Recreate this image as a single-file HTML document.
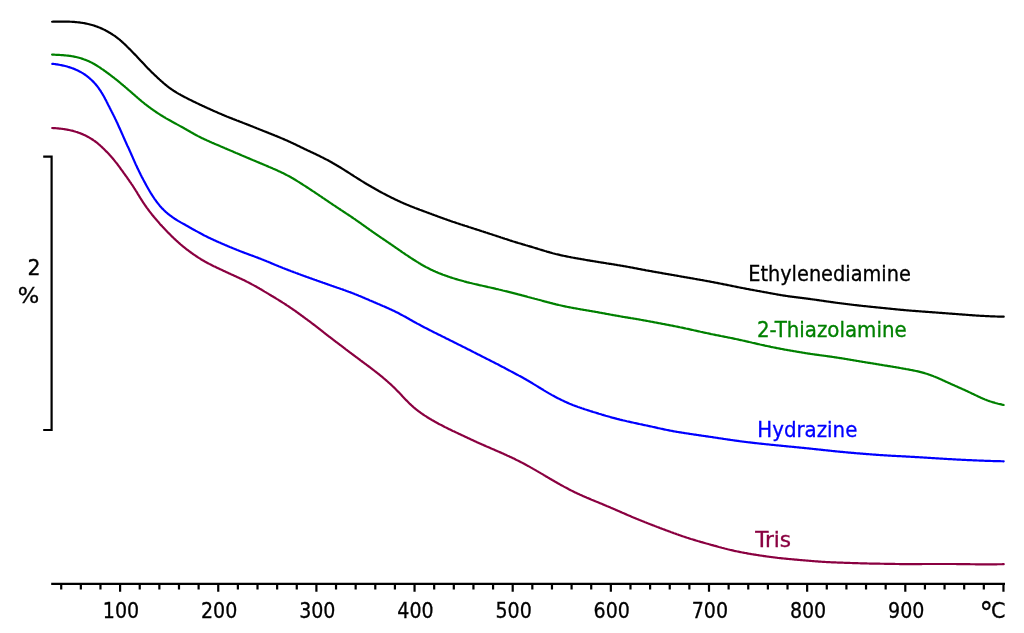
<!DOCTYPE html>
<html><head><meta charset="utf-8"><title>TGA curves</title><style>
html,body{margin:0;padding:0;background:#fff;width:1024px;height:633px;overflow:hidden}
svg{display:block}
text{font-family:'DejaVu Sans Condensed','Liberation Sans',sans-serif;font-size:22px;stroke-width:0.3}
</style></head><body>
<svg width="1024" height="633" viewBox="0 0 1024 633">
<g fill="none" stroke-width="2.2" stroke-linejoin="round" stroke-linecap="round">
<polyline points="52.1,21.73 53.1,21.71 54.1,21.69 55.1,21.66 56.2,21.64 57.2,21.63 58.2,21.61 59.2,21.60 60.2,21.59 61.2,21.58 62.2,21.57 63.2,21.57 64.2,21.58 65.3,21.59 66.3,21.60 67.3,21.62 68.3,21.65 69.3,21.68 70.3,21.73 71.3,21.77 72.3,21.83 73.3,21.89 74.3,21.97 75.3,22.05 76.3,22.14 77.3,22.24 78.3,22.34 79.3,22.46 80.3,22.59 81.3,22.72 82.2,22.87 83.2,23.03 84.2,23.19 85.2,23.37 86.2,23.56 87.1,23.76 88.1,23.98 89.1,24.21 90.0,24.45 91.0,24.70 92.0,24.97 92.9,25.25 93.9,25.54 94.8,25.85 95.7,26.17 96.7,26.51 97.6,26.86 98.5,27.22 99.5,27.59 100.4,27.97 101.3,28.37 102.2,28.78 103.1,29.20 104.0,29.63 104.9,30.07 105.7,30.53 106.6,30.99 107.5,31.46 108.4,31.95 109.2,32.45 110.1,32.95 110.9,33.47 111.8,34.00 112.6,34.54 113.4,35.09 114.3,35.65 115.1,36.23 115.9,36.81 116.7,37.40 117.5,38.01 118.3,38.63 119.1,39.26 119.9,39.90 120.6,40.55 121.4,41.21 122.1,41.88 122.9,42.55 123.6,43.24 124.4,43.93 125.1,44.63 125.8,45.33 126.5,46.03 127.2,46.74 128.0,47.45 128.7,48.16 129.4,48.88 130.1,49.59 130.8,50.30 131.5,51.02 132.2,51.73 132.9,52.45 133.6,53.17 134.3,53.89 135.0,54.61 135.7,55.33 136.4,56.05 137.1,56.78 137.7,57.50 138.4,58.23 139.1,58.96 139.8,59.69 140.5,60.42 141.2,61.15 141.8,61.88 142.5,62.61 143.2,63.34 143.9,64.07 144.6,64.80 145.2,65.52 145.9,66.24 146.6,66.96 147.3,67.68 148.0,68.40 148.7,69.11 149.4,69.81 150.1,70.52 150.8,71.22 151.5,71.92 152.2,72.62 153.0,73.32 153.7,74.01 154.4,74.70 155.1,75.39 155.9,76.08 156.6,76.77 157.3,77.45 158.0,78.14 158.8,78.82 159.5,79.50 160.3,80.17 161.0,80.85 161.8,81.52 162.5,82.18 163.3,82.85 164.0,83.50 164.8,84.15 165.6,84.79 166.4,85.43 167.1,86.05 167.9,86.67 168.7,87.27 169.5,87.87 170.3,88.46 171.2,89.04 172.0,89.61 172.8,90.17 173.6,90.72 174.5,91.26 175.3,91.79 176.2,92.32 177.0,92.84 177.9,93.35 178.7,93.85 179.6,94.34 180.5,94.83 181.3,95.31 182.2,95.79 183.1,96.26 184.0,96.72 184.9,97.18 185.8,97.64 186.7,98.09 187.5,98.54 188.4,98.99 189.3,99.44 190.2,99.88 191.1,100.33 192.0,100.77 192.9,101.20 193.8,101.64 194.7,102.07 195.6,102.51 196.5,102.94 197.4,103.37 198.3,103.79 199.2,104.22 200.1,104.64 201.0,105.06 201.9,105.48 202.8,105.90 203.7,106.32 204.6,106.74 205.5,107.16 206.4,107.57 207.3,107.99 208.3,108.41 209.2,108.82 210.1,109.24 211.0,109.65 211.9,110.07 212.8,110.48 213.7,110.89 214.6,111.30 215.6,111.71 216.5,112.12 217.4,112.52 218.3,112.92 219.2,113.32 220.2,113.72 221.1,114.11 222.0,114.50 222.9,114.89 223.9,115.27 224.8,115.66 225.7,116.04 226.6,116.41 227.6,116.79 228.5,117.16 229.4,117.53 230.3,117.90 231.3,118.26 232.2,118.62 233.1,118.99 234.1,119.35 235.0,119.70 235.9,120.06 236.8,120.42 237.8,120.78 238.7,121.13 239.6,121.49 240.6,121.85 241.5,122.21 242.4,122.57 243.3,122.93 244.3,123.29 245.2,123.65 246.1,124.02 247.0,124.38 248.0,124.75 248.9,125.11 249.8,125.48 250.7,125.85 251.7,126.21 252.6,126.58 253.5,126.95 254.5,127.32 255.4,127.69 256.3,128.06 257.2,128.43 258.2,128.80 259.1,129.17 260.0,129.54 261.0,129.91 261.9,130.28 262.8,130.65 263.7,131.02 264.7,131.40 265.6,131.77 266.5,132.14 267.5,132.51 268.4,132.88 269.3,133.25 270.3,133.63 271.2,134.00 272.1,134.37 273.1,134.75 274.0,135.12 274.9,135.50 275.9,135.87 276.8,136.25 277.7,136.63 278.7,137.02 279.6,137.40 280.5,137.79 281.4,138.18 282.4,138.57 283.3,138.97 284.2,139.37 285.1,139.77 286.1,140.17 287.0,140.58 287.9,140.99 288.8,141.40 289.7,141.82 290.6,142.23 291.5,142.65 292.4,143.08 293.3,143.50 294.2,143.93 295.1,144.36 296.0,144.79 296.9,145.23 297.8,145.67 298.7,146.10 299.6,146.54 300.5,146.98 301.4,147.42 302.3,147.86 303.2,148.29 304.1,148.73 305.0,149.16 305.9,149.59 306.8,150.02 307.7,150.44 308.6,150.87 309.6,151.29 310.5,151.72 311.4,152.14 312.3,152.57 313.2,153.00 314.1,153.42 315.0,153.85 315.9,154.29 316.8,154.72 317.7,155.15 318.6,155.59 319.5,156.03 320.4,156.47 321.3,156.91 322.2,157.36 323.1,157.81 323.9,158.26 324.8,158.71 325.7,159.17 326.6,159.62 327.5,160.09 328.4,160.56 329.2,161.03 330.1,161.50 331.0,161.98 331.9,162.47 332.7,162.96 333.6,163.45 334.4,163.95 335.3,164.45 336.2,164.96 337.0,165.46 337.9,165.98 338.7,166.49 339.6,167.01 340.4,167.53 341.3,168.05 342.1,168.57 343.0,169.10 343.8,169.63 344.6,170.16 345.5,170.69 346.3,171.22 347.2,171.76 348.0,172.29 348.9,172.83 349.7,173.36 350.5,173.90 351.4,174.44 352.2,174.97 353.1,175.51 353.9,176.05 354.7,176.59 355.6,177.13 356.4,177.67 357.3,178.20 358.1,178.74 359.0,179.27 359.8,179.81 360.7,180.34 361.5,180.87 362.4,181.39 363.2,181.92 364.1,182.44 364.9,182.96 365.8,183.48 366.6,183.99 367.5,184.51 368.4,185.02 369.2,185.53 370.1,186.03 371.0,186.54 371.8,187.04 372.7,187.54 373.6,188.04 374.5,188.53 375.3,189.02 376.2,189.52 377.1,190.01 378.0,190.49 378.8,190.98 379.7,191.46 380.6,191.94 381.5,192.42 382.4,192.89 383.2,193.36 384.1,193.83 385.0,194.30 385.9,194.76 386.8,195.22 387.7,195.68 388.6,196.13 389.4,196.58 390.3,197.03 391.2,197.48 392.1,197.92 393.0,198.36 393.9,198.79 394.8,199.23 395.7,199.66 396.6,200.09 397.5,200.51 398.4,200.93 399.3,201.35 400.2,201.76 401.1,202.17 402.0,202.58 403.0,202.99 403.9,203.39 404.8,203.78 405.7,204.18 406.6,204.57 407.6,204.96 408.5,205.34 409.4,205.72 410.3,206.10 411.3,206.47 412.2,206.84 413.2,207.21 414.1,207.57 415.0,207.93 416.0,208.29 416.9,208.65 417.9,209.00 418.8,209.36 419.7,209.71 420.7,210.06 421.6,210.41 422.6,210.76 423.5,211.11 424.5,211.46 425.4,211.81 426.4,212.16 427.3,212.51 428.3,212.85 429.2,213.20 430.1,213.55 431.1,213.90 432.0,214.25 433.0,214.60 433.9,214.95 434.8,215.30 435.8,215.65 436.7,216.00 437.6,216.34 438.6,216.69 439.5,217.03 440.4,217.38 441.4,217.72 442.3,218.06 443.2,218.40 444.2,218.74 445.1,219.07 446.1,219.40 447.0,219.73 447.9,220.06 448.9,220.39 449.8,220.71 450.7,221.04 451.7,221.36 452.6,221.68 453.6,222.00 454.5,222.31 455.5,222.63 456.4,222.94 457.3,223.25 458.3,223.56 459.2,223.87 460.2,224.18 461.1,224.49 462.1,224.80 463.0,225.11 464.0,225.41 464.9,225.72 465.9,226.03 466.8,226.33 467.8,226.64 468.7,226.95 469.7,227.25 470.6,227.56 471.6,227.86 472.5,228.17 473.5,228.47 474.4,228.78 475.4,229.09 476.3,229.39 477.3,229.70 478.2,230.00 479.2,230.31 480.1,230.62 481.1,230.92 482.0,231.23 483.0,231.54 483.9,231.85 484.9,232.15 485.8,232.46 486.8,232.77 487.7,233.08 488.7,233.39 489.6,233.70 490.6,234.01 491.5,234.32 492.5,234.63 493.4,234.94 494.4,235.25 495.3,235.57 496.3,235.88 497.2,236.19 498.2,236.51 499.1,236.82 500.1,237.13 501.0,237.45 502.0,237.76 502.9,238.08 503.9,238.39 504.8,238.71 505.8,239.02 506.7,239.33 507.7,239.65 508.7,239.96 509.6,240.27 510.6,240.58 511.5,240.88 512.5,241.19 513.4,241.49 514.4,241.78 515.4,242.08 516.3,242.37 517.3,242.66 518.2,242.95 519.2,243.23 520.2,243.52 521.1,243.80 522.1,244.09 523.0,244.37 524.0,244.65 525.0,244.94 525.9,245.22 526.9,245.50 527.8,245.79 528.8,246.07 529.7,246.35 530.7,246.64 531.7,246.93 532.6,247.21 533.6,247.50 534.5,247.79 535.5,248.08 536.4,248.37 537.4,248.67 538.3,248.96 539.3,249.25 540.2,249.55 541.2,249.84 542.2,250.14 543.1,250.43 544.1,250.72 545.0,251.01 546.0,251.29 546.9,251.58 547.9,251.85 548.9,252.13 549.8,252.40 550.8,252.67 551.8,252.94 552.7,253.20 553.7,253.46 554.7,253.71 555.6,253.96 556.6,254.20 557.6,254.44 558.6,254.68 559.6,254.91 560.5,255.13 561.5,255.35 562.5,255.57 563.5,255.78 564.5,255.99 565.4,256.19 566.4,256.39 567.4,256.59 568.4,256.78 569.4,256.97 570.4,257.16 571.3,257.35 572.3,257.53 573.3,257.71 574.3,257.89 575.3,258.06 576.2,258.24 577.2,258.42 578.2,258.59 579.2,258.76 580.2,258.94 581.1,259.11 582.1,259.28 583.1,259.45 584.1,259.62 585.1,259.79 586.0,259.96 587.0,260.13 588.0,260.30 589.0,260.46 590.0,260.63 590.9,260.80 591.9,260.96 592.9,261.12 593.9,261.29 594.9,261.45 595.9,261.61 596.8,261.77 597.8,261.93 598.8,262.09 599.8,262.24 600.8,262.40 601.8,262.56 602.8,262.71 603.8,262.87 604.8,263.02 605.8,263.17 606.7,263.33 607.7,263.48 608.7,263.64 609.7,263.79 610.7,263.95 611.7,264.10 612.7,264.26 613.7,264.42 614.7,264.58 615.7,264.74 616.7,264.90 617.6,265.07 618.6,265.23 619.6,265.40 620.6,265.56 621.6,265.73 622.6,265.90 623.6,266.07 624.5,266.25 625.5,266.42 626.5,266.60 627.5,266.78 628.5,266.96 629.5,267.14 630.4,267.32 631.4,267.50 632.4,267.69 633.4,267.87 634.3,268.06 635.3,268.25 636.3,268.44 637.3,268.63 638.3,268.81 639.2,269.00 640.2,269.19 641.2,269.37 642.2,269.56 643.2,269.75 644.2,269.93 645.2,270.11 646.1,270.30 647.1,270.48 648.1,270.66 649.1,270.84 650.1,271.02 651.1,271.20 652.1,271.37 653.1,271.55 654.0,271.73 655.0,271.91 656.0,272.08 657.0,272.26 658.0,272.43 659.0,272.61 660.0,272.78 661.0,272.95 662.0,273.13 662.9,273.30 663.9,273.47 664.9,273.65 665.9,273.82 666.9,273.99 667.9,274.16 668.9,274.33 669.8,274.51 670.8,274.68 671.8,274.85 672.8,275.02 673.8,275.19 674.7,275.36 675.7,275.53 676.7,275.70 677.7,275.87 678.7,276.04 679.6,276.21 680.6,276.38 681.6,276.55 682.6,276.72 683.6,276.89 684.5,277.06 685.5,277.24 686.5,277.41 687.5,277.58 688.5,277.75 689.4,277.92 690.4,278.09 691.4,278.27 692.4,278.44 693.4,278.61 694.4,278.79 695.3,278.96 696.3,279.13 697.3,279.31 698.3,279.48 699.3,279.66 700.3,279.83 701.3,280.01 702.3,280.19 703.3,280.36 704.2,280.54 705.2,280.72 706.2,280.90 707.2,281.08 708.2,281.26 709.2,281.44 710.2,281.63 711.2,281.81 712.1,282.00 713.1,282.18 714.1,282.37 715.1,282.56 716.1,282.75 717.1,282.94 718.0,283.13 719.0,283.32 720.0,283.51 721.0,283.71 722.0,283.90 722.9,284.10 723.9,284.30 724.9,284.49 725.9,284.69 726.8,284.89 727.8,285.09 728.8,285.29 729.8,285.49 730.7,285.69 731.7,285.89 732.7,286.08 733.7,286.28 734.7,286.48 735.6,286.68 736.6,286.88 737.6,287.07 738.6,287.27 739.6,287.46 740.5,287.66 741.5,287.85 742.5,288.04 743.5,288.23 744.5,288.42 745.5,288.61 746.5,288.80 747.4,288.99 748.4,289.18 749.4,289.36 750.4,289.55 751.4,289.73 752.4,289.91 753.4,290.10 754.4,290.28 755.4,290.46 756.3,290.64 757.3,290.82 758.3,291.00 759.3,291.18 760.3,291.36 761.3,291.54 762.2,291.71 763.2,291.89 764.2,292.07 765.2,292.25 766.2,292.43 767.2,292.61 768.1,292.79 769.1,292.97 770.1,293.15 771.1,293.33 772.1,293.51 773.0,293.69 774.0,293.86 775.0,294.04 776.0,294.22 776.9,294.39 777.9,294.56 778.9,294.73 779.9,294.90 780.9,295.07 781.8,295.23 782.8,295.39 783.8,295.55 784.8,295.71 785.8,295.86 786.8,296.01 787.8,296.15 788.7,296.30 789.7,296.44 790.7,296.57 791.7,296.70 792.7,296.83 793.7,296.96 794.7,297.09 795.7,297.21 796.7,297.33 797.7,297.46 798.7,297.58 799.7,297.70 800.7,297.82 801.7,297.94 802.7,298.07 803.7,298.19 804.7,298.32 805.7,298.44 806.7,298.57 807.6,298.70 808.6,298.83 809.6,298.96 810.6,299.09 811.6,299.23 812.6,299.36 813.6,299.50 814.6,299.64 815.6,299.77 816.6,299.91 817.6,300.06 818.5,300.20 819.5,300.34 820.5,300.48 821.5,300.62 822.5,300.77 823.5,300.91 824.5,301.05 825.4,301.20 826.4,301.34 827.4,301.48 828.4,301.62 829.4,301.76 830.4,301.90 831.4,302.04 832.4,302.18 833.4,302.31 834.3,302.45 835.3,302.58 836.3,302.72 837.3,302.85 838.3,302.98 839.3,303.11 840.3,303.24 841.3,303.37 842.3,303.50 843.3,303.63 844.3,303.76 845.3,303.88 846.3,304.01 847.3,304.13 848.3,304.26 849.3,304.38 850.3,304.50 851.3,304.62 852.3,304.74 853.3,304.85 854.3,304.97 855.3,305.09 856.3,305.20 857.3,305.31 858.3,305.43 859.2,305.54 860.2,305.65 861.2,305.76 862.2,305.86 863.2,305.97 864.2,306.07 865.2,306.18 866.2,306.28 867.2,306.38 868.2,306.49 869.1,306.59 870.1,306.69 871.1,306.79 872.1,306.89 873.1,306.99 874.1,307.09 875.1,307.19 876.1,307.29 877.0,307.39 878.0,307.49 879.0,307.59 880.0,307.69 881.0,307.79 882.0,307.89 883.0,307.99 884.0,308.09 885.0,308.20 886.0,308.30 887.0,308.40 888.0,308.50 889.0,308.60 890.0,308.71 891.0,308.81 891.9,308.91 892.9,309.01 893.9,309.11 894.9,309.21 895.9,309.31 896.9,309.41 897.9,309.51 898.9,309.60 899.9,309.70 900.9,309.79 902.0,309.88 903.0,309.97 904.0,310.06 905.0,310.15 906.0,310.24 907.0,310.32 908.0,310.41 909.0,310.49 910.0,310.57 911.0,310.65 912.0,310.73 913.0,310.81 914.0,310.89 915.0,310.97 916.0,311.04 917.0,311.12 917.9,311.19 918.9,311.27 919.9,311.34 920.9,311.42 921.9,311.49 922.9,311.56 923.9,311.64 924.9,311.71 925.9,311.78 926.9,311.86 927.9,311.93 928.9,312.00 929.9,312.07 930.9,312.15 931.8,312.22 932.8,312.29 933.8,312.37 934.8,312.44 935.8,312.51 936.8,312.59 937.8,312.66 938.8,312.73 939.8,312.81 940.8,312.88 941.8,312.96 942.8,313.03 943.8,313.10 944.8,313.18 945.8,313.25 946.8,313.33 947.8,313.40 948.8,313.48 949.8,313.55 950.8,313.63 951.8,313.70 952.8,313.78 953.8,313.85 954.8,313.93 955.9,314.01 956.9,314.08 957.9,314.16 958.9,314.24 959.9,314.31 960.8,314.39 961.8,314.47 962.8,314.54 963.8,314.62 964.8,314.69 965.8,314.77 966.8,314.84 967.8,314.92 968.8,314.99 969.8,315.07 970.8,315.14 971.8,315.21 972.8,315.28 973.8,315.35 974.8,315.42 975.8,315.48 976.7,315.55 977.7,315.61 978.7,315.68 979.7,315.74 980.7,315.80 981.7,315.85 982.7,315.91 983.7,315.97 984.7,316.02 985.7,316.07 986.7,316.12 987.7,316.17 988.7,316.21 989.7,316.26 990.7,316.30 991.7,316.34 992.7,316.38 993.7,316.41 994.7,316.44 995.7,316.48 996.7,316.50 997.7,316.53 998.7,316.55 999.7,316.57 1000.7,316.59 1001.7,316.61 1002.7,316.62 1003.7,316.63" stroke="#000000"/>
<polyline points="52.1,54.55 53.1,54.62 54.1,54.69 55.1,54.74 56.1,54.80 57.1,54.85 58.2,54.90 59.2,54.96 60.2,55.01 61.2,55.07 62.2,55.14 63.2,55.21 64.2,55.29 65.2,55.37 66.2,55.47 67.2,55.57 68.2,55.69 69.2,55.81 70.2,55.95 71.2,56.10 72.2,56.26 73.1,56.43 74.1,56.62 75.1,56.82 76.1,57.03 77.0,57.26 78.0,57.50 79.0,57.76 79.9,58.02 80.9,58.31 81.8,58.61 82.8,58.92 83.7,59.25 84.7,59.59 85.6,59.94 86.5,60.32 87.4,60.70 88.4,61.10 89.3,61.51 90.2,61.94 91.1,62.38 92.0,62.84 92.8,63.30 93.7,63.78 94.6,64.27 95.4,64.78 96.3,65.29 97.1,65.81 98.0,66.34 98.8,66.88 99.7,67.43 100.5,67.98 101.3,68.54 102.1,69.11 103.0,69.68 103.8,70.25 104.6,70.83 105.4,71.41 106.2,71.99 107.0,72.58 107.8,73.17 108.6,73.76 109.4,74.35 110.2,74.95 111.0,75.55 111.8,76.16 112.6,76.77 113.4,77.38 114.2,77.99 114.9,78.61 115.7,79.22 116.5,79.85 117.3,80.47 118.1,81.10 118.8,81.73 119.6,82.36 120.4,83.00 121.1,83.63 121.9,84.27 122.7,84.91 123.4,85.56 124.2,86.20 125.0,86.85 125.7,87.50 126.5,88.15 127.2,88.80 128.0,89.45 128.7,90.10 129.5,90.75 130.3,91.41 131.0,92.07 131.8,92.72 132.5,93.38 133.3,94.04 134.0,94.70 134.8,95.36 135.5,96.02 136.3,96.68 137.1,97.34 137.8,98.00 138.6,98.65 139.3,99.31 140.1,99.96 140.9,100.60 141.6,101.24 142.4,101.88 143.2,102.51 144.0,103.14 144.7,103.76 145.5,104.37 146.3,104.99 147.1,105.59 147.9,106.20 148.7,106.79 149.5,107.39 150.3,107.97 151.1,108.56 151.9,109.14 152.7,109.72 153.5,110.29 154.4,110.85 155.2,111.42 156.0,111.98 156.8,112.53 157.7,113.08 158.5,113.63 159.3,114.17 160.2,114.70 161.0,115.24 161.9,115.77 162.7,116.29 163.6,116.81 164.4,117.32 165.3,117.83 166.1,118.34 167.0,118.84 167.9,119.33 168.7,119.82 169.6,120.31 170.5,120.80 171.4,121.28 172.2,121.76 173.1,122.24 174.0,122.72 174.9,123.19 175.8,123.67 176.6,124.15 177.5,124.64 178.4,125.12 179.3,125.61 180.2,126.10 181.0,126.59 181.9,127.08 182.8,127.57 183.7,128.06 184.5,128.55 185.4,129.05 186.3,129.54 187.1,130.04 188.0,130.53 188.9,131.03 189.8,131.52 190.6,132.02 191.5,132.51 192.4,133.00 193.3,133.49 194.1,133.98 195.0,134.47 195.9,134.95 196.8,135.42 197.6,135.89 198.5,136.36 199.4,136.81 200.3,137.27 201.2,137.72 202.1,138.16 203.0,138.59 203.9,139.02 204.8,139.45 205.7,139.87 206.6,140.29 207.6,140.70 208.5,141.11 209.4,141.51 210.3,141.91 211.2,142.31 212.1,142.71 213.1,143.11 214.0,143.50 214.9,143.89 215.8,144.29 216.8,144.68 217.7,145.08 218.6,145.47 219.5,145.86 220.4,146.26 221.4,146.65 222.3,147.05 223.2,147.44 224.1,147.83 225.0,148.23 226.0,148.62 226.9,149.01 227.8,149.41 228.7,149.80 229.6,150.19 230.5,150.58 231.5,150.97 232.4,151.36 233.3,151.76 234.2,152.15 235.1,152.54 236.0,152.93 237.0,153.32 237.9,153.71 238.8,154.10 239.7,154.49 240.6,154.88 241.5,155.27 242.5,155.66 243.4,156.04 244.3,156.43 245.2,156.82 246.1,157.21 247.0,157.60 248.0,157.98 248.9,158.37 249.8,158.76 250.7,159.14 251.6,159.53 252.5,159.92 253.5,160.30 254.4,160.69 255.3,161.07 256.2,161.46 257.1,161.85 258.1,162.23 259.0,162.62 259.9,163.01 260.8,163.39 261.8,163.78 262.7,164.17 263.6,164.56 264.5,164.95 265.4,165.34 266.4,165.73 267.3,166.12 268.2,166.52 269.1,166.91 270.1,167.30 271.0,167.70 271.9,168.10 272.8,168.50 273.8,168.90 274.7,169.30 275.6,169.71 276.5,170.12 277.4,170.53 278.3,170.95 279.3,171.37 280.2,171.80 281.1,172.23 282.0,172.66 282.9,173.10 283.8,173.55 284.7,174.00 285.6,174.45 286.5,174.91 287.3,175.38 288.2,175.85 289.1,176.32 290.0,176.81 290.9,177.29 291.7,177.78 292.6,178.28 293.5,178.78 294.3,179.28 295.2,179.79 296.0,180.31 296.9,180.83 297.7,181.35 298.6,181.88 299.4,182.41 300.3,182.94 301.1,183.48 302.0,184.01 302.8,184.55 303.6,185.09 304.5,185.64 305.3,186.18 306.2,186.72 307.0,187.27 307.8,187.81 308.7,188.36 309.5,188.91 310.3,189.46 311.2,190.01 312.0,190.56 312.8,191.11 313.7,191.66 314.5,192.21 315.3,192.77 316.2,193.33 317.0,193.88 317.8,194.44 318.7,195.00 319.5,195.56 320.3,196.12 321.2,196.69 322.0,197.25 322.8,197.81 323.7,198.38 324.5,198.94 325.3,199.50 326.2,200.06 327.0,200.63 327.8,201.19 328.6,201.75 329.5,202.31 330.3,202.87 331.1,203.43 332.0,203.99 332.8,204.55 333.6,205.11 334.5,205.66 335.3,206.22 336.1,206.77 337.0,207.32 337.8,207.88 338.6,208.43 339.5,208.98 340.3,209.53 341.1,210.08 342.0,210.63 342.8,211.17 343.6,211.72 344.5,212.27 345.3,212.82 346.1,213.36 346.9,213.91 347.8,214.46 348.6,215.01 349.4,215.56 350.3,216.11 351.1,216.67 351.9,217.23 352.7,217.78 353.5,218.34 354.4,218.91 355.2,219.47 356.0,220.04 356.8,220.60 357.6,221.17 358.5,221.74 359.3,222.32 360.1,222.89 360.9,223.46 361.7,224.04 362.5,224.62 363.3,225.20 364.1,225.78 365.0,226.36 365.8,226.94 366.6,227.52 367.4,228.10 368.2,228.68 369.0,229.26 369.8,229.84 370.7,230.42 371.5,231.00 372.3,231.57 373.1,232.15 373.9,232.73 374.8,233.30 375.6,233.87 376.4,234.45 377.3,235.02 378.1,235.58 378.9,236.15 379.7,236.72 380.6,237.29 381.4,237.85 382.3,238.42 383.1,238.98 383.9,239.55 384.8,240.12 385.6,240.68 386.4,241.25 387.3,241.81 388.1,242.38 388.9,242.95 389.8,243.51 390.6,244.08 391.4,244.65 392.2,245.22 393.1,245.78 393.9,246.35 394.7,246.92 395.5,247.49 396.4,248.06 397.2,248.63 398.0,249.21 398.8,249.78 399.7,250.35 400.5,250.92 401.3,251.49 402.1,252.05 402.9,252.62 403.8,253.18 404.6,253.74 405.4,254.30 406.2,254.86 407.1,255.41 407.9,255.97 408.7,256.51 409.5,257.06 410.4,257.61 411.2,258.15 412.1,258.69 412.9,259.22 413.7,259.76 414.6,260.29 415.4,260.82 416.3,261.35 417.1,261.88 418.0,262.40 418.8,262.92 419.7,263.43 420.5,263.95 421.4,264.46 422.2,264.96 423.1,265.46 424.0,265.95 424.9,266.44 425.7,266.92 426.6,267.39 427.5,267.85 428.4,268.31 429.3,268.76 430.2,269.20 431.1,269.64 432.0,270.07 432.9,270.49 433.8,270.91 434.7,271.32 435.6,271.72 436.6,272.12 437.5,272.51 438.4,272.89 439.3,273.27 440.3,273.64 441.2,274.01 442.1,274.37 443.0,274.72 444.0,275.07 444.9,275.41 445.9,275.74 446.8,276.08 447.7,276.40 448.7,276.72 449.6,277.04 450.6,277.35 451.5,277.66 452.5,277.96 453.4,278.26 454.4,278.55 455.3,278.84 456.3,279.13 457.2,279.42 458.2,279.70 459.1,279.97 460.1,280.25 461.1,280.52 462.0,280.78 463.0,281.05 463.9,281.31 464.9,281.57 465.9,281.82 466.8,282.07 467.8,282.32 468.8,282.56 469.7,282.81 470.7,283.04 471.7,283.28 472.6,283.52 473.6,283.75 474.6,283.98 475.6,284.21 476.5,284.43 477.5,284.66 478.5,284.88 479.4,285.10 480.4,285.32 481.4,285.54 482.4,285.75 483.4,285.97 484.3,286.19 485.3,286.40 486.3,286.62 487.3,286.84 488.2,287.06 489.2,287.27 490.2,287.49 491.2,287.71 492.1,287.94 493.1,288.16 494.1,288.38 495.1,288.61 496.0,288.84 497.0,289.07 498.0,289.30 498.9,289.53 499.9,289.76 500.9,290.00 501.9,290.23 502.8,290.47 503.8,290.71 504.8,290.95 505.7,291.19 506.7,291.43 507.7,291.68 508.6,291.92 509.6,292.17 510.6,292.42 511.6,292.67 512.5,292.91 513.5,293.16 514.5,293.41 515.4,293.66 516.4,293.92 517.4,294.17 518.3,294.42 519.3,294.67 520.3,294.92 521.3,295.17 522.2,295.43 523.2,295.68 524.2,295.93 525.1,296.19 526.1,296.44 527.1,296.69 528.0,296.95 529.0,297.20 530.0,297.46 531.0,297.72 531.9,297.98 532.9,298.23 533.9,298.49 534.8,298.75 535.8,299.01 536.8,299.27 537.7,299.53 538.7,299.78 539.7,300.04 540.7,300.30 541.6,300.56 542.6,300.82 543.6,301.07 544.5,301.33 545.5,301.59 546.5,301.84 547.4,302.10 548.4,302.35 549.4,302.61 550.3,302.86 551.3,303.11 552.3,303.36 553.2,303.61 554.2,303.86 555.2,304.10 556.1,304.34 557.1,304.58 558.1,304.82 559.0,305.05 560.0,305.28 561.0,305.50 562.0,305.72 562.9,305.94 563.9,306.15 564.9,306.36 565.9,306.56 566.8,306.76 567.8,306.96 568.8,307.16 569.8,307.35 570.8,307.54 571.7,307.72 572.7,307.90 573.7,308.09 574.7,308.26 575.7,308.44 576.7,308.62 577.7,308.79 578.7,308.96 579.7,309.13 580.6,309.30 581.6,309.47 582.6,309.64 583.6,309.81 584.6,309.98 585.6,310.15 586.6,310.32 587.6,310.48 588.6,310.65 589.6,310.82 590.5,310.99 591.5,311.16 592.5,311.33 593.5,311.50 594.5,311.68 595.5,311.85 596.4,312.02 597.4,312.20 598.4,312.38 599.4,312.55 600.4,312.73 601.3,312.91 602.3,313.09 603.3,313.26 604.3,313.44 605.2,313.62 606.2,313.80 607.2,313.98 608.2,314.16 609.2,314.35 610.1,314.53 611.1,314.71 612.1,314.89 613.1,315.06 614.1,315.24 615.0,315.42 616.0,315.60 617.0,315.77 618.0,315.95 619.0,316.12 620.0,316.29 620.9,316.46 621.9,316.63 622.9,316.80 623.9,316.97 624.9,317.13 625.9,317.30 626.9,317.46 627.9,317.63 628.9,317.79 629.9,317.95 630.8,318.12 631.8,318.28 632.8,318.45 633.8,318.61 634.8,318.78 635.8,318.94 636.8,319.11 637.8,319.28 638.8,319.45 639.7,319.62 640.7,319.79 641.7,319.97 642.7,320.14 643.7,320.32 644.7,320.49 645.6,320.67 646.6,320.85 647.6,321.03 648.6,321.21 649.6,321.39 650.6,321.57 651.5,321.76 652.5,321.94 653.5,322.13 654.5,322.31 655.4,322.50 656.4,322.68 657.4,322.87 658.4,323.05 659.4,323.24 660.4,323.43 661.3,323.61 662.3,323.80 663.3,323.99 664.3,324.17 665.3,324.36 666.3,324.55 667.2,324.74 668.2,324.93 669.2,325.12 670.2,325.31 671.2,325.50 672.2,325.69 673.2,325.89 674.1,326.08 675.1,326.28 676.1,326.48 677.1,326.67 678.1,326.87 679.1,327.07 680.0,327.28 681.0,327.48 682.0,327.69 683.0,327.89 684.0,328.10 685.0,328.31 685.9,328.52 686.9,328.73 687.9,328.94 688.9,329.16 689.8,329.37 690.8,329.59 691.8,329.80 692.8,330.02 693.7,330.23 694.7,330.45 695.7,330.67 696.6,330.88 697.6,331.10 698.6,331.32 699.6,331.53 700.5,331.75 701.5,331.96 702.5,332.18 703.4,332.39 704.4,332.60 705.4,332.81 706.4,333.02 707.3,333.23 708.3,333.44 709.3,333.65 710.3,333.85 711.2,334.06 712.2,334.26 713.2,334.46 714.2,334.66 715.1,334.86 716.1,335.06 717.1,335.26 718.1,335.45 719.1,335.65 720.1,335.84 721.0,336.04 722.0,336.23 723.0,336.42 724.0,336.62 725.0,336.81 726.0,337.01 727.0,337.20 727.9,337.40 728.9,337.59 729.9,337.79 730.9,337.99 731.9,338.19 732.9,338.39 733.8,338.59 734.8,338.80 735.8,339.00 736.8,339.21 737.8,339.42 738.7,339.63 739.7,339.84 740.7,340.05 741.7,340.27 742.6,340.48 743.6,340.70 744.6,340.92 745.5,341.14 746.5,341.36 747.5,341.59 748.5,341.81 749.4,342.04 750.4,342.27 751.4,342.49 752.3,342.72 753.3,342.95 754.3,343.17 755.3,343.40 756.2,343.62 757.2,343.85 758.2,344.07 759.2,344.29 760.1,344.51 761.1,344.73 762.1,344.95 763.1,345.17 764.1,345.39 765.0,345.60 766.0,345.81 767.0,346.03 768.0,346.24 769.0,346.44 770.0,346.65 770.9,346.86 771.9,347.06 772.9,347.26 773.9,347.46 774.9,347.66 775.9,347.86 776.8,348.05 777.8,348.24 778.8,348.44 779.8,348.63 780.8,348.81 781.8,349.00 782.7,349.18 783.7,349.36 784.7,349.55 785.7,349.72 786.7,349.90 787.7,350.08 788.6,350.25 789.6,350.43 790.6,350.60 791.6,350.77 792.5,350.94 793.5,351.11 794.5,351.28 795.5,351.45 796.5,351.62 797.4,351.79 798.4,351.95 799.4,352.12 800.4,352.28 801.4,352.44 802.4,352.61 803.3,352.77 804.3,352.92 805.3,353.08 806.3,353.24 807.3,353.39 808.3,353.55 809.3,353.70 810.2,353.84 811.2,353.99 812.2,354.13 813.2,354.28 814.2,354.42 815.2,354.55 816.2,354.69 817.2,354.83 818.2,354.96 819.2,355.09 820.2,355.23 821.2,355.36 822.2,355.49 823.2,355.62 824.2,355.76 825.2,355.89 826.1,356.02 827.1,356.16 828.1,356.30 829.1,356.43 830.1,356.57 831.1,356.71 832.1,356.85 833.1,357.00 834.1,357.14 835.1,357.29 836.0,357.44 837.0,357.59 838.0,357.74 839.0,357.89 840.0,358.05 841.0,358.21 842.0,358.37 842.9,358.53 843.9,358.69 844.9,358.86 845.9,359.03 846.9,359.19 847.9,359.36 848.8,359.53 849.8,359.69 850.8,359.86 851.8,360.03 852.8,360.19 853.8,360.36 854.8,360.52 855.8,360.69 856.7,360.85 857.7,361.01 858.7,361.18 859.7,361.34 860.7,361.50 861.7,361.66 862.7,361.82 863.7,361.98 864.7,362.15 865.7,362.31 866.7,362.47 867.6,362.63 868.6,362.79 869.6,362.95 870.6,363.11 871.6,363.27 872.6,363.43 873.6,363.59 874.6,363.76 875.6,363.92 876.6,364.08 877.5,364.24 878.5,364.41 879.5,364.57 880.5,364.73 881.5,364.89 882.5,365.06 883.5,365.22 884.4,365.39 885.4,365.55 886.4,365.71 887.4,365.88 888.4,366.04 889.4,366.20 890.4,366.37 891.3,366.53 892.3,366.70 893.3,366.86 894.3,367.03 895.3,367.20 896.3,367.36 897.3,367.53 898.3,367.70 899.2,367.87 900.2,368.04 901.2,368.21 902.2,368.39 903.2,368.56 904.2,368.73 905.2,368.91 906.1,369.09 907.1,369.26 908.1,369.44 909.1,369.62 910.1,369.81 911.1,369.99 912.0,370.17 913.0,370.36 914.0,370.56 915.0,370.75 915.9,370.96 916.9,371.17 917.9,371.38 918.9,371.61 919.8,371.84 920.8,372.09 921.8,372.34 922.7,372.60 923.7,372.87 924.6,373.16 925.6,373.45 926.5,373.75 927.5,374.06 928.4,374.38 929.4,374.71 930.3,375.04 931.2,375.38 932.2,375.73 933.1,376.09 934.0,376.45 935.0,376.82 935.9,377.20 936.8,377.58 937.7,377.97 938.6,378.36 939.6,378.76 940.5,379.16 941.4,379.56 942.3,379.97 943.2,380.39 944.1,380.80 945.0,381.22 945.9,381.64 946.8,382.06 947.8,382.47 948.7,382.89 949.6,383.31 950.5,383.72 951.4,384.14 952.3,384.55 953.2,384.96 954.1,385.36 955.0,385.77 956.0,386.17 956.9,386.58 957.8,386.98 958.7,387.39 959.6,387.80 960.5,388.21 961.4,388.62 962.3,389.03 963.3,389.44 964.2,389.85 965.1,390.27 966.0,390.69 966.9,391.11 967.8,391.53 968.7,391.95 969.6,392.38 970.5,392.80 971.4,393.23 972.3,393.66 973.2,394.08 974.1,394.51 975.0,394.94 975.9,395.37 976.8,395.80 977.7,396.22 978.6,396.64 979.5,397.06 980.4,397.48 981.3,397.89 982.2,398.29 983.1,398.69 984.0,399.07 984.9,399.45 985.9,399.82 986.8,400.18 987.7,400.52 988.7,400.86 989.6,401.19 990.5,401.50 991.5,401.81 992.4,402.11 993.4,402.39 994.4,402.67 995.3,402.94 996.3,403.21 997.3,403.46 998.2,403.71 999.2,403.96 1000.2,404.19 1001.2,404.42 1002.1,404.65 1003.1,404.87 1003.6,404.97" stroke="#008000"/>
<polyline points="52.3,63.79 53.3,63.91 54.3,64.03 55.3,64.17 56.2,64.31 57.2,64.46 58.2,64.62 59.2,64.79 60.2,64.97 61.2,65.16 62.2,65.36 63.2,65.57 64.2,65.80 65.1,66.03 66.1,66.28 67.1,66.54 68.0,66.82 69.0,67.10 69.9,67.41 70.9,67.72 71.8,68.05 72.8,68.39 73.7,68.75 74.6,69.12 75.5,69.51 76.4,69.91 77.3,70.33 78.2,70.76 79.1,71.21 80.0,71.67 80.9,72.15 81.7,72.64 82.6,73.15 83.4,73.67 84.3,74.21 85.1,74.77 85.9,75.34 86.7,75.93 87.5,76.53 88.3,77.15 89.0,77.78 89.8,78.43 90.5,79.09 91.3,79.76 92.0,80.45 92.7,81.15 93.4,81.86 94.1,82.58 94.7,83.31 95.4,84.06 96.0,84.81 96.6,85.57 97.3,86.35 97.9,87.13 98.5,87.92 99.0,88.73 99.6,89.54 100.2,90.36 100.7,91.19 101.2,92.02 101.8,92.87 102.3,93.72 102.8,94.59 103.3,95.45 103.8,96.33 104.3,97.21 104.8,98.09 105.2,98.98 105.7,99.88 106.2,100.77 106.6,101.67 107.1,102.57 107.5,103.47 108.0,104.37 108.4,105.27 108.9,106.17 109.4,107.07 109.8,107.97 110.3,108.87 110.7,109.77 111.2,110.67 111.6,111.56 112.1,112.46 112.6,113.36 113.0,114.26 113.5,115.16 113.9,116.06 114.4,116.96 114.8,117.86 115.2,118.76 115.7,119.67 116.1,120.57 116.5,121.48 117.0,122.39 117.4,123.30 117.8,124.21 118.2,125.13 118.6,126.04 119.0,126.96 119.4,127.87 119.9,128.79 120.3,129.70 120.7,130.62 121.1,131.53 121.5,132.44 121.9,133.36 122.3,134.27 122.7,135.18 123.1,136.08 123.5,136.99 123.9,137.90 124.3,138.80 124.7,139.70 125.1,140.60 125.5,141.50 125.9,142.40 126.3,143.30 126.7,144.19 127.1,145.09 127.5,145.98 128.0,146.88 128.4,147.77 128.8,148.66 129.2,149.56 129.6,150.45 130.0,151.35 130.4,152.25 130.8,153.15 131.2,154.05 131.6,154.96 132.0,155.86 132.4,156.77 132.8,157.68 133.2,158.59 133.6,159.51 134.0,160.42 134.4,161.33 134.8,162.25 135.2,163.16 135.6,164.07 136.0,164.98 136.5,165.89 136.9,166.80 137.3,167.71 137.7,168.61 138.2,169.52 138.6,170.42 139.0,171.33 139.5,172.23 139.9,173.13 140.4,174.03 140.8,174.93 141.3,175.83 141.7,176.73 142.2,177.63 142.7,178.53 143.2,179.42 143.6,180.32 144.1,181.21 144.6,182.11 145.1,183.00 145.5,183.89 146.0,184.78 146.5,185.67 147.0,186.56 147.5,187.44 148.0,188.32 148.5,189.19 149.0,190.06 149.5,190.93 150.0,191.79 150.5,192.65 151.1,193.51 151.6,194.36 152.1,195.20 152.7,196.04 153.2,196.88 153.8,197.71 154.3,198.53 154.9,199.35 155.5,200.17 156.1,200.98 156.6,201.78 157.2,202.57 157.9,203.36 158.5,204.14 159.1,204.91 159.7,205.68 160.4,206.43 161.1,207.18 161.7,207.91 162.4,208.63 163.1,209.35 163.8,210.05 164.6,210.74 165.3,211.42 166.0,212.09 166.8,212.74 167.5,213.39 168.3,214.03 169.1,214.65 169.9,215.27 170.7,215.87 171.5,216.46 172.3,217.05 173.1,217.62 173.9,218.18 174.7,218.73 175.6,219.28 176.4,219.81 177.3,220.34 178.1,220.85 179.0,221.36 179.9,221.87 180.7,222.37 181.6,222.86 182.5,223.35 183.3,223.84 184.2,224.33 185.1,224.81 185.9,225.30 186.8,225.79 187.7,226.27 188.6,226.76 189.4,227.25 190.3,227.74 191.2,228.23 192.0,228.72 192.9,229.20 193.8,229.69 194.7,230.18 195.5,230.67 196.4,231.15 197.3,231.63 198.2,232.11 199.0,232.59 199.9,233.07 200.8,233.54 201.7,234.01 202.6,234.48 203.4,234.95 204.3,235.41 205.2,235.87 206.1,236.32 207.0,236.77 207.9,237.21 208.8,237.65 209.7,238.08 210.6,238.51 211.5,238.93 212.4,239.35 213.3,239.76 214.2,240.18 215.1,240.58 216.0,240.99 216.9,241.39 217.8,241.79 218.7,242.19 219.7,242.59 220.6,242.99 221.5,243.39 222.4,243.78 223.3,244.18 224.2,244.57 225.1,244.97 226.1,245.36 227.0,245.75 227.9,246.14 228.8,246.53 229.7,246.92 230.7,247.31 231.6,247.70 232.5,248.08 233.4,248.46 234.4,248.84 235.3,249.22 236.2,249.60 237.1,249.97 238.1,250.34 239.0,250.71 239.9,251.08 240.9,251.44 241.8,251.80 242.7,252.16 243.7,252.51 244.6,252.86 245.6,253.22 246.5,253.56 247.4,253.91 248.4,254.26 249.3,254.60 250.3,254.95 251.2,255.29 252.2,255.64 253.1,255.98 254.0,256.33 255.0,256.68 255.9,257.04 256.9,257.39 257.8,257.75 258.7,258.11 259.7,258.47 260.6,258.84 261.5,259.20 262.5,259.57 263.4,259.95 264.3,260.32 265.3,260.70 266.2,261.07 267.1,261.45 268.1,261.83 269.0,262.22 269.9,262.60 270.8,262.99 271.7,263.37 272.7,263.76 273.6,264.14 274.5,264.53 275.4,264.92 276.4,265.30 277.3,265.68 278.2,266.06 279.1,266.44 280.1,266.82 281.0,267.19 281.9,267.57 282.8,267.94 283.8,268.30 284.7,268.67 285.6,269.03 286.6,269.39 287.5,269.75 288.4,270.11 289.4,270.47 290.3,270.82 291.2,271.17 292.2,271.53 293.1,271.88 294.0,272.23 295.0,272.58 295.9,272.93 296.9,273.28 297.8,273.62 298.7,273.97 299.7,274.31 300.6,274.66 301.5,275.00 302.5,275.34 303.4,275.68 304.3,276.02 305.3,276.36 306.2,276.70 307.1,277.03 308.1,277.37 309.0,277.71 309.9,278.04 310.9,278.38 311.8,278.71 312.7,279.05 313.7,279.38 314.6,279.72 315.6,280.05 316.5,280.39 317.4,280.72 318.4,281.05 319.3,281.39 320.3,281.72 321.2,282.05 322.2,282.39 323.1,282.72 324.1,283.05 325.0,283.39 326.0,283.72 326.9,284.05 327.8,284.38 328.8,284.71 329.7,285.04 330.7,285.37 331.6,285.70 332.6,286.03 333.5,286.36 334.5,286.69 335.4,287.01 336.4,287.34 337.3,287.67 338.3,288.00 339.2,288.33 340.2,288.66 341.1,288.99 342.1,289.32 343.0,289.65 343.9,289.99 344.9,290.32 345.8,290.66 346.7,291.00 347.7,291.34 348.6,291.68 349.6,292.02 350.5,292.37 351.4,292.72 352.3,293.08 353.3,293.44 354.2,293.80 355.1,294.17 356.1,294.54 357.0,294.91 357.9,295.29 358.8,295.67 359.8,296.05 360.7,296.44 361.6,296.83 362.5,297.22 363.5,297.61 364.4,298.01 365.3,298.40 366.2,298.80 367.2,299.20 368.1,299.60 369.0,300.00 369.9,300.40 370.9,300.79 371.8,301.19 372.7,301.59 373.6,301.98 374.6,302.38 375.5,302.77 376.4,303.17 377.3,303.56 378.2,303.95 379.2,304.35 380.1,304.74 381.0,305.14 381.9,305.53 382.8,305.93 383.8,306.32 384.7,306.72 385.6,307.12 386.5,307.52 387.4,307.92 388.3,308.33 389.2,308.73 390.1,309.15 391.0,309.56 391.9,309.98 392.8,310.40 393.7,310.83 394.6,311.26 395.5,311.70 396.4,312.14 397.3,312.59 398.2,313.04 399.1,313.50 399.9,313.96 400.8,314.43 401.7,314.90 402.6,315.38 403.4,315.86 404.3,316.34 405.2,316.82 406.1,317.31 406.9,317.80 407.8,318.29 408.7,318.78 409.5,319.27 410.4,319.76 411.3,320.25 412.2,320.73 413.0,321.22 413.9,321.71 414.8,322.20 415.7,322.68 416.5,323.16 417.4,323.64 418.3,324.12 419.2,324.59 420.1,325.07 420.9,325.54 421.8,326.01 422.7,326.48 423.6,326.95 424.5,327.41 425.4,327.87 426.3,328.33 427.2,328.79 428.1,329.25 429.0,329.71 429.9,330.16 430.8,330.62 431.6,331.07 432.5,331.52 433.4,331.97 434.3,332.42 435.2,332.87 436.1,333.31 437.0,333.76 437.9,334.21 438.8,334.65 439.7,335.10 440.6,335.54 441.5,335.99 442.4,336.43 443.3,336.87 444.2,337.32 445.1,337.76 445.9,338.20 446.8,338.65 447.7,339.09 448.6,339.53 449.5,339.98 450.4,340.42 451.3,340.87 452.2,341.31 453.1,341.76 454.0,342.20 454.9,342.65 455.8,343.09 456.6,343.54 457.5,343.99 458.4,344.43 459.3,344.88 460.2,345.33 461.1,345.78 462.0,346.23 462.9,346.68 463.8,347.13 464.7,347.59 465.6,348.04 466.5,348.49 467.4,348.95 468.3,349.40 469.2,349.85 470.1,350.31 471.0,350.76 471.9,351.22 472.8,351.67 473.6,352.13 474.5,352.58 475.4,353.04 476.3,353.49 477.2,353.94 478.1,354.40 479.0,354.85 479.9,355.30 480.8,355.75 481.7,356.20 482.6,356.66 483.5,357.11 484.3,357.56 485.2,358.01 486.1,358.46 487.0,358.91 487.9,359.36 488.8,359.81 489.7,360.26 490.6,360.71 491.5,361.16 492.4,361.61 493.2,362.06 494.1,362.52 495.0,362.97 495.9,363.43 496.8,363.89 497.7,364.35 498.6,364.81 499.4,365.27 500.3,365.73 501.2,366.20 502.1,366.67 503.0,367.13 503.9,367.60 504.8,368.07 505.6,368.54 506.5,369.01 507.4,369.48 508.3,369.95 509.2,370.42 510.1,370.89 511.0,371.36 511.8,371.83 512.7,372.30 513.6,372.77 514.5,373.24 515.4,373.72 516.3,374.19 517.2,374.66 518.1,375.13 518.9,375.61 519.8,376.09 520.7,376.57 521.6,377.05 522.5,377.54 523.4,378.02 524.2,378.52 525.1,379.01 526.0,379.51 526.8,380.01 527.7,380.51 528.6,381.02 529.4,381.53 530.3,382.04 531.1,382.55 532.0,383.06 532.9,383.58 533.7,384.09 534.6,384.61 535.4,385.13 536.3,385.65 537.1,386.17 538.0,386.69 538.8,387.21 539.7,387.73 540.5,388.26 541.4,388.78 542.2,389.30 543.1,389.82 543.9,390.34 544.8,390.86 545.6,391.37 546.5,391.88 547.3,392.39 548.2,392.89 549.0,393.39 549.9,393.89 550.8,394.38 551.6,394.87 552.5,395.35 553.4,395.83 554.3,396.31 555.1,396.78 556.0,397.25 556.9,397.71 557.8,398.16 558.7,398.62 559.6,399.07 560.5,399.51 561.4,399.95 562.3,400.38 563.2,400.81 564.1,401.24 565.0,401.65 565.9,402.07 566.8,402.48 567.7,402.88 568.6,403.27 569.5,403.67 570.5,404.05 571.4,404.43 572.3,404.80 573.2,405.17 574.2,405.53 575.1,405.89 576.1,406.24 577.0,406.58 577.9,406.92 578.9,407.25 579.8,407.58 580.8,407.91 581.7,408.23 582.7,408.55 583.7,408.87 584.6,409.18 585.6,409.49 586.5,409.80 587.5,410.11 588.4,410.42 589.4,410.72 590.3,411.03 591.3,411.33 592.3,411.63 593.2,411.93 594.2,412.23 595.1,412.52 596.1,412.82 597.0,413.11 598.0,413.41 598.9,413.70 599.9,413.99 600.9,414.28 601.8,414.57 602.8,414.85 603.7,415.14 604.7,415.42 605.6,415.70 606.6,415.98 607.5,416.25 608.5,416.53 609.5,416.80 610.4,417.07 611.4,417.33 612.3,417.59 613.3,417.85 614.3,418.11 615.2,418.36 616.2,418.62 617.1,418.87 618.1,419.11 619.1,419.36 620.0,419.60 621.0,419.84 622.0,420.07 622.9,420.31 623.9,420.54 624.9,420.77 625.9,421.00 626.8,421.23 627.8,421.45 628.8,421.68 629.8,421.90 630.7,422.11 631.7,422.33 632.7,422.55 633.7,422.76 634.6,422.97 635.6,423.18 636.6,423.39 637.6,423.60 638.6,423.81 639.5,424.02 640.5,424.22 641.5,424.43 642.5,424.64 643.4,424.85 644.4,425.06 645.4,425.27 646.4,425.48 647.4,425.69 648.3,425.90 649.3,426.11 650.3,426.33 651.3,426.54 652.3,426.76 653.2,426.98 654.2,427.19 655.2,427.41 656.2,427.63 657.2,427.85 658.1,428.07 659.1,428.28 660.1,428.50 661.1,428.72 662.1,428.94 663.1,429.15 664.0,429.36 665.0,429.58 666.0,429.78 667.0,429.99 668.0,430.19 669.0,430.38 669.9,430.57 670.9,430.76 671.9,430.95 672.9,431.13 673.9,431.30 674.9,431.48 675.9,431.65 676.8,431.81 677.8,431.98 678.8,432.14 679.8,432.30 680.8,432.46 681.7,432.61 682.7,432.77 683.7,432.92 684.7,433.08 685.7,433.23 686.7,433.38 687.6,433.53 688.6,433.68 689.6,433.83 690.6,433.98 691.6,434.12 692.6,434.27 693.5,434.42 694.5,434.56 695.5,434.71 696.5,434.86 697.5,435.00 698.5,435.15 699.5,435.29 700.5,435.44 701.4,435.58 702.4,435.72 703.4,435.87 704.4,436.01 705.4,436.16 706.4,436.30 707.4,436.45 708.4,436.59 709.4,436.74 710.4,436.89 711.4,437.03 712.4,437.18 713.4,437.33 714.4,437.48 715.3,437.62 716.3,437.77 717.3,437.92 718.3,438.07 719.3,438.22 720.3,438.37 721.3,438.52 722.3,438.67 723.3,438.82 724.3,438.97 725.2,439.11 726.2,439.26 727.2,439.41 728.2,439.56 729.2,439.70 730.2,439.85 731.2,439.99 732.2,440.14 733.1,440.28 734.1,440.42 735.1,440.56 736.1,440.69 737.1,440.83 738.1,440.96 739.1,441.09 740.1,441.23 741.0,441.35 742.0,441.48 743.0,441.61 744.0,441.73 745.0,441.86 746.0,441.98 747.0,442.10 748.0,442.22 749.0,442.34 750.0,442.46 751.0,442.58 752.0,442.69 753.0,442.81 754.0,442.92 755.0,443.04 756.0,443.15 757.0,443.26 758.0,443.37 759.0,443.48 760.0,443.59 761.0,443.69 762.0,443.80 763.0,443.91 764.0,444.01 765.0,444.12 766.0,444.22 767.0,444.32 768.0,444.42 769.0,444.53 769.9,444.63 770.9,444.73 771.9,444.83 772.9,444.93 773.9,445.02 774.9,445.12 775.9,445.22 776.9,445.32 777.9,445.42 778.9,445.51 779.8,445.61 780.8,445.71 781.8,445.80 782.8,445.90 783.8,446.00 784.8,446.09 785.8,446.19 786.8,446.28 787.8,446.38 788.8,446.48 789.7,446.57 790.7,446.67 791.7,446.76 792.7,446.86 793.7,446.96 794.7,447.05 795.7,447.15 796.7,447.24 797.7,447.34 798.7,447.44 799.7,447.54 800.7,447.64 801.7,447.74 802.7,447.84 803.7,447.94 804.7,448.04 805.7,448.14 806.7,448.24 807.7,448.34 808.7,448.45 809.7,448.55 810.7,448.65 811.7,448.76 812.7,448.86 813.7,448.97 814.6,449.07 815.6,449.18 816.6,449.29 817.6,449.39 818.6,449.50 819.6,449.61 820.6,449.71 821.6,449.82 822.6,449.93 823.6,450.04 824.6,450.14 825.6,450.25 826.5,450.36 827.5,450.46 828.5,450.57 829.5,450.67 830.5,450.78 831.5,450.88 832.5,450.98 833.5,451.09 834.5,451.19 835.5,451.29 836.5,451.39 837.5,451.49 838.5,451.59 839.5,451.69 840.5,451.78 841.5,451.88 842.5,451.97 843.5,452.07 844.5,452.16 845.5,452.26 846.5,452.35 847.5,452.44 848.5,452.53 849.5,452.62 850.5,452.71 851.5,452.80 852.5,452.88 853.5,452.97 854.5,453.06 855.5,453.14 856.5,453.23 857.5,453.31 858.5,453.39 859.5,453.47 860.5,453.56 861.5,453.64 862.5,453.72 863.5,453.80 864.5,453.88 865.5,453.95 866.5,454.03 867.5,454.11 868.5,454.19 869.5,454.26 870.5,454.34 871.5,454.41 872.5,454.49 873.5,454.56 874.5,454.64 875.5,454.71 876.5,454.78 877.4,454.85 878.4,454.92 879.4,454.99 880.4,455.06 881.4,455.13 882.4,455.20 883.4,455.27 884.4,455.33 885.4,455.40 886.4,455.46 887.4,455.52 888.4,455.58 889.4,455.64 890.3,455.70 891.3,455.75 892.3,455.81 893.3,455.86 894.3,455.92 895.3,455.97 896.3,456.02 897.3,456.07 898.4,456.12 899.4,456.17 900.4,456.22 901.4,456.27 902.4,456.32 903.4,456.37 904.4,456.42 905.4,456.47 906.4,456.53 907.4,456.58 908.4,456.63 909.3,456.69 910.3,456.74 911.3,456.80 912.3,456.86 913.3,456.91 914.3,456.97 915.3,457.03 916.3,457.09 917.3,457.14 918.3,457.20 919.3,457.26 920.3,457.32 921.3,457.38 922.3,457.44 923.3,457.51 924.3,457.57 925.3,457.63 926.3,457.69 927.2,457.75 928.2,457.82 929.2,457.88 930.2,457.94 931.2,458.00 932.2,458.07 933.2,458.13 934.2,458.19 935.2,458.25 936.2,458.31 937.2,458.38 938.2,458.44 939.2,458.50 940.2,458.56 941.2,458.62 942.3,458.68 943.3,458.74 944.3,458.80 945.3,458.86 946.3,458.92 947.3,458.98 948.3,459.04 949.3,459.10 950.3,459.15 951.3,459.21 952.3,459.27 953.3,459.32 954.3,459.38 955.3,459.43 956.3,459.48 957.3,459.54 958.3,459.59 959.3,459.64 960.3,459.69 961.3,459.74 962.3,459.79 963.3,459.84 964.3,459.89 965.3,459.94 966.3,459.99 967.3,460.04 968.3,460.08 969.3,460.13 970.3,460.17 971.3,460.22 972.3,460.26 973.3,460.31 974.3,460.35 975.3,460.39 976.3,460.44 977.3,460.48 978.3,460.52 979.3,460.56 980.3,460.60 981.3,460.64 982.2,460.68 983.2,460.71 984.2,460.75 985.2,460.79 986.2,460.82 987.2,460.86 988.2,460.89 989.2,460.92 990.2,460.95 991.2,460.98 992.2,461.01 993.2,461.04 994.2,461.07 995.2,461.10 996.2,461.12 997.2,461.15 998.2,461.18 999.2,461.20 1000.2,461.22 1001.3,461.24 1002.3,461.27 1003.3,461.29 1003.7,461.30" stroke="#0000ff"/>
<polyline points="52.2,128.00 53.2,128.06 54.2,128.12 55.2,128.19 56.2,128.27 57.2,128.35 58.2,128.44 59.2,128.53 60.2,128.64 61.2,128.75 62.2,128.87 63.2,129.01 64.2,129.15 65.2,129.30 66.2,129.46 67.1,129.64 68.1,129.82 69.1,130.02 70.1,130.23 71.0,130.45 72.0,130.68 73.0,130.93 73.9,131.19 74.9,131.46 75.8,131.75 76.8,132.04 77.7,132.36 78.6,132.68 79.6,133.02 80.5,133.37 81.4,133.74 82.3,134.12 83.2,134.52 84.1,134.92 85.0,135.35 85.9,135.78 86.8,136.23 87.7,136.69 88.6,137.17 89.4,137.66 90.3,138.17 91.1,138.69 92.0,139.22 92.8,139.77 93.6,140.33 94.5,140.90 95.3,141.49 96.1,142.10 96.9,142.72 97.7,143.35 98.4,143.99 99.2,144.65 100.0,145.31 100.7,145.99 101.5,146.67 102.2,147.37 102.9,148.07 103.7,148.77 104.4,149.48 105.1,150.19 105.8,150.91 106.5,151.63 107.2,152.36 107.9,153.08 108.6,153.81 109.3,154.55 109.9,155.29 110.6,156.03 111.3,156.77 111.9,157.53 112.6,158.28 113.2,159.04 113.9,159.81 114.5,160.58 115.1,161.35 115.7,162.13 116.4,162.92 117.0,163.70 117.6,164.50 118.2,165.30 118.8,166.10 119.4,166.90 119.9,167.71 120.5,168.51 121.1,169.32 121.7,170.13 122.3,170.94 122.9,171.75 123.5,172.56 124.0,173.37 124.6,174.19 125.2,175.00 125.8,175.82 126.4,176.63 127.0,177.45 127.5,178.27 128.1,179.09 128.7,179.91 129.3,180.73 129.8,181.56 130.4,182.39 131.0,183.22 131.5,184.05 132.1,184.88 132.7,185.72 133.2,186.56 133.8,187.41 134.3,188.26 134.9,189.11 135.4,189.96 135.9,190.82 136.5,191.67 137.0,192.53 137.5,193.39 138.0,194.26 138.6,195.11 139.1,195.97 139.6,196.83 140.1,197.68 140.7,198.53 141.2,199.38 141.7,200.22 142.3,201.05 142.8,201.89 143.3,202.72 143.9,203.54 144.5,204.36 145.0,205.18 145.6,205.99 146.2,206.80 146.7,207.61 147.3,208.41 147.9,209.21 148.5,210.01 149.1,210.80 149.7,211.59 150.3,212.38 150.9,213.16 151.5,213.94 152.1,214.72 152.8,215.50 153.4,216.27 154.0,217.04 154.7,217.81 155.3,218.57 156.0,219.34 156.6,220.10 157.3,220.86 157.9,221.62 158.6,222.37 159.3,223.13 159.9,223.88 160.6,224.63 161.3,225.37 162.0,226.11 162.6,226.85 163.3,227.59 164.0,228.32 164.7,229.05 165.4,229.78 166.1,230.50 166.8,231.22 167.5,231.94 168.2,232.65 168.9,233.37 169.6,234.07 170.3,234.78 171.0,235.48 171.7,236.17 172.4,236.87 173.1,237.56 173.8,238.25 174.5,238.93 175.3,239.61 176.0,240.28 176.7,240.96 177.5,241.62 178.2,242.28 178.9,242.94 179.7,243.60 180.4,244.24 181.2,244.89 182.0,245.53 182.7,246.16 183.5,246.79 184.3,247.41 185.1,248.03 185.8,248.65 186.6,249.26 187.4,249.87 188.2,250.47 189.0,251.07 189.8,251.66 190.6,252.25 191.4,252.83 192.2,253.41 193.0,253.99 193.9,254.56 194.7,255.12 195.5,255.68 196.3,256.24 197.2,256.79 198.0,257.33 198.8,257.87 199.7,258.41 200.5,258.94 201.4,259.46 202.2,259.97 203.1,260.48 204.0,260.98 204.8,261.48 205.7,261.97 206.6,262.46 207.5,262.94 208.4,263.41 209.2,263.88 210.1,264.34 211.0,264.80 211.9,265.25 212.8,265.70 213.7,266.14 214.7,266.58 215.6,267.02 216.5,267.45 217.4,267.89 218.3,268.32 219.2,268.75 220.1,269.18 221.0,269.60 222.0,270.03 222.9,270.46 223.8,270.88 224.7,271.31 225.6,271.73 226.5,272.15 227.4,272.57 228.3,272.99 229.2,273.41 230.1,273.83 231.0,274.25 232.0,274.66 232.9,275.08 233.8,275.49 234.7,275.91 235.6,276.32 236.5,276.74 237.4,277.15 238.3,277.56 239.2,277.98 240.1,278.40 241.0,278.82 241.9,279.24 242.8,279.67 243.7,280.10 244.6,280.54 245.5,280.97 246.4,281.42 247.2,281.87 248.1,282.32 249.0,282.77 249.9,283.24 250.8,283.70 251.6,284.17 252.5,284.64 253.4,285.12 254.3,285.60 255.1,286.09 256.0,286.57 256.9,287.07 257.7,287.56 258.6,288.06 259.5,288.56 260.3,289.06 261.2,289.56 262.1,290.07 262.9,290.58 263.8,291.09 264.6,291.60 265.5,292.11 266.4,292.63 267.2,293.14 268.1,293.66 268.9,294.17 269.8,294.69 270.7,295.21 271.5,295.73 272.4,296.25 273.3,296.77 274.1,297.29 275.0,297.81 275.9,298.33 276.7,298.86 277.6,299.39 278.4,299.91 279.3,300.44 280.2,300.98 281.0,301.51 281.9,302.05 282.7,302.59 283.6,303.13 284.4,303.67 285.3,304.22 286.1,304.76 286.9,305.31 287.8,305.87 288.6,306.42 289.4,306.98 290.3,307.54 291.1,308.10 291.9,308.67 292.7,309.23 293.6,309.80 294.4,310.37 295.2,310.95 296.0,311.52 296.8,312.10 297.6,312.68 298.4,313.26 299.2,313.84 300.0,314.42 300.8,315.00 301.6,315.59 302.4,316.17 303.2,316.76 304.0,317.35 304.8,317.93 305.6,318.52 306.4,319.11 307.2,319.70 308.0,320.30 308.8,320.89 309.6,321.49 310.4,322.09 311.2,322.69 312.0,323.29 312.8,323.90 313.6,324.50 314.4,325.11 315.2,325.72 316.0,326.34 316.8,326.95 317.6,327.57 318.4,328.19 319.2,328.81 320.0,329.43 320.8,330.05 321.6,330.67 322.4,331.29 323.2,331.92 323.9,332.54 324.7,333.16 325.5,333.78 326.3,334.40 327.1,335.02 327.9,335.64 328.7,336.26 329.5,336.88 330.3,337.49 331.1,338.10 331.9,338.72 332.7,339.33 333.5,339.94 334.3,340.55 335.1,341.16 335.9,341.76 336.7,342.37 337.5,342.97 338.3,343.58 339.1,344.18 339.9,344.79 340.7,345.39 341.5,345.99 342.3,346.60 343.1,347.20 343.9,347.80 344.7,348.40 345.4,349.01 346.2,349.61 347.0,350.21 347.8,350.81 348.6,351.41 349.4,352.01 350.2,352.61 351.0,353.21 351.8,353.81 352.6,354.40 353.4,355.00 354.2,355.60 355.0,356.19 355.8,356.79 356.6,357.38 357.4,357.97 358.2,358.56 359.0,359.15 359.8,359.75 360.5,360.34 361.3,360.93 362.1,361.51 362.9,362.11 363.7,362.70 364.5,363.29 365.3,363.88 366.1,364.47 366.9,365.07 367.7,365.67 368.5,366.26 369.3,366.86 370.1,367.47 370.9,368.07 371.7,368.67 372.5,369.28 373.3,369.89 374.1,370.50 374.8,371.11 375.6,371.73 376.4,372.34 377.2,372.96 378.0,373.58 378.8,374.20 379.6,374.83 380.3,375.46 381.1,376.09 381.9,376.72 382.7,377.36 383.4,378.00 384.2,378.65 385.0,379.29 385.7,379.94 386.5,380.60 387.2,381.26 388.0,381.92 388.7,382.59 389.5,383.26 390.2,383.93 391.0,384.61 391.7,385.29 392.4,385.97 393.2,386.66 393.9,387.36 394.6,388.06 395.3,388.76 396.0,389.47 396.7,390.18 397.4,390.90 398.1,391.62 398.8,392.35 399.5,393.07 400.2,393.80 400.9,394.54 401.6,395.27 402.2,396.00 402.9,396.74 403.6,397.47 404.3,398.20 405.0,398.93 405.7,399.65 406.4,400.37 407.1,401.09 407.8,401.80 408.5,402.51 409.2,403.21 409.9,403.91 410.7,404.60 411.4,405.28 412.1,405.95 412.9,406.62 413.6,407.28 414.4,407.93 415.2,408.57 415.9,409.20 416.7,409.82 417.5,410.44 418.3,411.04 419.1,411.64 419.9,412.23 420.7,412.82 421.5,413.39 422.3,413.96 423.2,414.52 424.0,415.08 424.8,415.63 425.7,416.17 426.5,416.71 427.3,417.24 428.2,417.77 429.0,418.29 429.9,418.81 430.7,419.32 431.6,419.82 432.4,420.32 433.3,420.82 434.2,421.31 435.0,421.80 435.9,422.28 436.8,422.76 437.7,423.24 438.5,423.71 439.4,424.18 440.3,424.64 441.2,425.10 442.1,425.56 443.0,426.01 443.9,426.47 444.7,426.92 445.6,427.37 446.5,427.81 447.4,428.26 448.3,428.70 449.2,429.14 450.1,429.58 451.0,430.02 451.9,430.45 452.8,430.89 453.8,431.32 454.7,431.75 455.6,432.18 456.5,432.62 457.4,433.05 458.3,433.47 459.2,433.90 460.1,434.33 461.0,434.76 461.9,435.19 462.8,435.61 463.8,436.04 464.7,436.47 465.6,436.90 466.5,437.32 467.4,437.75 468.3,438.18 469.2,438.60 470.1,439.03 471.0,439.45 471.9,439.88 472.9,440.30 473.8,440.72 474.7,441.14 475.6,441.56 476.5,441.97 477.4,442.38 478.3,442.79 479.2,443.20 480.1,443.61 481.1,444.01 482.0,444.42 482.9,444.82 483.8,445.22 484.7,445.62 485.6,446.02 486.5,446.41 487.5,446.81 488.4,447.21 489.3,447.61 490.2,448.00 491.1,448.40 492.0,448.80 493.0,449.19 493.9,449.59 494.8,449.99 495.7,450.39 496.6,450.78 497.5,451.18 498.4,451.58 499.4,451.98 500.3,452.38 501.2,452.79 502.1,453.19 503.0,453.59 503.9,454.00 504.8,454.41 505.7,454.82 506.6,455.23 507.5,455.64 508.5,456.06 509.4,456.48 510.3,456.90 511.2,457.32 512.1,457.75 513.0,458.18 513.9,458.61 514.8,459.04 515.6,459.48 516.5,459.91 517.4,460.36 518.3,460.80 519.2,461.25 520.1,461.70 521.0,462.15 521.9,462.61 522.7,463.07 523.6,463.54 524.5,464.00 525.4,464.48 526.3,464.95 527.1,465.43 528.0,465.91 528.9,466.39 529.8,466.88 530.6,467.37 531.5,467.86 532.4,468.35 533.2,468.85 534.1,469.35 535.0,469.85 535.9,470.35 536.7,470.85 537.6,471.36 538.4,471.86 539.3,472.37 540.2,472.88 541.0,473.39 541.9,473.89 542.8,474.40 543.6,474.91 544.5,475.42 545.3,475.92 546.2,476.43 547.1,476.94 547.9,477.44 548.8,477.94 549.6,478.45 550.5,478.95 551.4,479.45 552.2,479.95 553.1,480.45 554.0,480.95 554.8,481.45 555.7,481.95 556.6,482.45 557.4,482.94 558.3,483.44 559.2,483.93 560.0,484.43 560.9,484.92 561.8,485.41 562.7,485.90 563.5,486.39 564.4,486.87 565.3,487.36 566.2,487.84 567.1,488.32 568.0,488.79 568.8,489.26 569.7,489.73 570.6,490.19 571.5,490.64 572.4,491.09 573.3,491.54 574.2,491.98 575.1,492.41 576.0,492.84 576.9,493.27 577.8,493.69 578.7,494.10 579.6,494.52 580.6,494.93 581.5,495.33 582.4,495.73 583.3,496.14 584.2,496.53 585.1,496.93 586.0,497.32 586.9,497.72 587.9,498.11 588.8,498.50 589.7,498.88 590.6,499.27 591.5,499.65 592.5,500.04 593.4,500.42 594.3,500.80 595.2,501.19 596.1,501.57 597.1,501.95 598.0,502.33 598.9,502.71 599.8,503.10 600.8,503.48 601.7,503.86 602.6,504.25 603.5,504.63 604.5,505.02 605.4,505.41 606.3,505.79 607.2,506.18 608.2,506.57 609.1,506.96 610.0,507.36 610.9,507.75 611.9,508.14 612.8,508.54 613.7,508.93 614.6,509.33 615.5,509.73 616.4,510.12 617.4,510.52 618.3,510.92 619.2,511.32 620.1,511.72 621.0,512.12 621.9,512.52 622.9,512.93 623.8,513.33 624.7,513.73 625.6,514.13 626.5,514.53 627.4,514.93 628.3,515.32 629.3,515.72 630.2,516.11 631.1,516.50 632.0,516.89 632.9,517.28 633.9,517.67 634.8,518.05 635.7,518.44 636.6,518.82 637.6,519.20 638.5,519.58 639.4,519.96 640.4,520.33 641.3,520.71 642.2,521.08 643.2,521.45 644.1,521.83 645.0,522.20 646.0,522.57 646.9,522.94 647.8,523.30 648.8,523.67 649.7,524.04 650.7,524.40 651.6,524.77 652.5,525.13 653.5,525.49 654.4,525.85 655.3,526.21 656.3,526.57 657.2,526.93 658.2,527.28 659.1,527.64 660.0,527.99 661.0,528.35 661.9,528.70 662.8,529.05 663.8,529.40 664.7,529.75 665.6,530.10 666.6,530.44 667.5,530.79 668.4,531.13 669.4,531.48 670.3,531.82 671.2,532.17 672.2,532.51 673.1,532.85 674.0,533.19 675.0,533.53 675.9,533.86 676.8,534.20 677.8,534.53 678.7,534.87 679.7,535.20 680.6,535.53 681.5,535.85 682.5,536.18 683.4,536.50 684.4,536.82 685.3,537.14 686.3,537.45 687.2,537.76 688.2,538.07 689.1,538.38 690.1,538.68 691.0,538.98 692.0,539.28 692.9,539.57 693.9,539.87 694.9,540.16 695.8,540.44 696.8,540.73 697.7,541.01 698.7,541.29 699.7,541.57 700.6,541.85 701.6,542.13 702.6,542.40 703.5,542.68 704.5,542.95 705.5,543.22 706.4,543.49 707.4,543.76 708.4,544.03 709.3,544.30 710.3,544.57 711.2,544.84 712.2,545.10 713.2,545.37 714.1,545.64 715.1,545.90 716.1,546.17 717.0,546.43 718.0,546.69 718.9,546.96 719.9,547.22 720.9,547.48 721.8,547.74 722.8,548.00 723.8,548.25 724.7,548.50 725.7,548.75 726.7,549.00 727.6,549.24 728.6,549.48 729.6,549.72 730.5,549.95 731.5,550.18 732.5,550.41 733.5,550.63 734.4,550.85 735.4,551.06 736.4,551.27 737.4,551.48 738.4,551.68 739.3,551.88 740.3,552.08 741.3,552.27 742.3,552.46 743.3,552.65 744.3,552.83 745.3,553.02 746.3,553.19 747.2,553.37 748.2,553.55 749.2,553.72 750.2,553.89 751.2,554.06 752.2,554.22 753.2,554.38 754.2,554.55 755.2,554.71 756.1,554.86 757.1,555.02 758.1,555.18 759.1,555.33 760.1,555.48 761.1,555.63 762.1,555.78 763.1,555.92 764.0,556.07 765.0,556.21 766.0,556.35 767.0,556.49 768.0,556.62 769.0,556.76 769.9,556.89 770.9,557.02 771.9,557.15 772.9,557.27 773.9,557.40 774.9,557.52 775.9,557.64 776.9,557.75 777.8,557.87 778.8,557.98 779.8,558.09 780.8,558.20 781.8,558.31 782.8,558.41 783.8,558.51 784.8,558.61 785.8,558.71 786.8,558.81 787.8,558.90 788.8,559.00 789.8,559.09 790.8,559.18 791.8,559.27 792.8,559.36 793.8,559.45 794.8,559.54 795.8,559.63 796.8,559.72 797.8,559.81 798.8,559.90 799.8,559.99 800.8,560.08 801.8,560.16 802.8,560.25 803.8,560.34 804.8,560.42 805.8,560.51 806.8,560.59 807.8,560.68 808.8,560.76 809.8,560.84 810.7,560.92 811.7,561.00 812.7,561.08 813.7,561.16 814.7,561.24 815.7,561.32 816.7,561.39 817.7,561.46 818.7,561.53 819.7,561.60 820.7,561.67 821.7,561.73 822.7,561.80 823.7,561.86 824.7,561.92 825.7,561.98 826.7,562.03 827.7,562.09 828.7,562.14 829.7,562.19 830.7,562.24 831.7,562.28 832.7,562.33 833.7,562.38 834.7,562.42 835.7,562.46 836.7,562.50 837.7,562.54 838.7,562.58 839.7,562.62 840.7,562.65 841.7,562.69 842.7,562.72 843.7,562.76 844.7,562.79 845.7,562.83 846.7,562.86 847.7,562.89 848.7,562.93 849.7,562.96 850.7,562.99 851.7,563.02 852.7,563.06 853.7,563.09 854.7,563.12 855.7,563.15 856.7,563.18 857.7,563.21 858.7,563.24 859.7,563.27 860.7,563.30 861.7,563.33 862.7,563.36 863.7,563.39 864.7,563.42 865.7,563.44 866.7,563.47 867.7,563.49 868.7,563.51 869.6,563.54 870.6,563.56 871.6,563.58 872.6,563.60 873.6,563.61 874.6,563.63 875.6,563.65 876.6,563.66 877.6,563.68 878.6,563.70 879.6,563.71 880.6,563.73 881.6,563.74 882.6,563.76 883.6,563.77 884.6,563.79 885.6,563.80 886.6,563.82 887.6,563.84 888.6,563.85 889.6,563.87 890.6,563.89 891.6,563.91 892.6,563.93 893.6,563.94 894.6,563.96 895.6,563.98 896.6,563.99 897.6,564.01 898.6,564.02 899.6,564.03 900.6,564.04 901.6,564.05 902.6,564.06 903.6,564.07 904.6,564.07 905.6,564.08 906.6,564.08 907.6,564.08 908.6,564.08 909.6,564.08 910.6,564.08 911.6,564.08 912.6,564.08 913.6,564.08 914.6,564.07 915.6,564.07 916.6,564.06 917.6,564.05 918.6,564.05 919.6,564.04 920.6,564.03 921.6,564.03 922.6,564.02 923.6,564.02 924.6,564.01 925.6,564.01 926.6,564.01 927.6,564.00 928.7,564.00 929.7,564.00 930.7,564.00 931.7,564.00 932.7,563.99 933.7,563.99 934.7,563.99 935.7,563.99 936.7,563.99 937.7,563.99 938.7,563.99 939.7,563.99 940.7,563.99 941.7,563.98 942.7,563.98 943.7,563.98 944.7,563.98 945.7,563.98 946.8,563.98 947.8,563.98 948.8,563.98 949.8,563.99 950.8,563.99 951.8,563.99 952.8,564.00 953.8,564.00 954.8,564.01 955.8,564.02 956.8,564.03 957.8,564.04 958.8,564.05 959.8,564.06 960.7,564.07 961.7,564.08 962.7,564.10 963.7,564.12 964.7,564.13 965.7,564.15 966.7,564.17 967.7,564.18 968.7,564.20 969.7,564.21 970.7,564.23 971.7,564.24 972.6,564.25 973.6,564.26 974.6,564.27 975.6,564.28 976.6,564.29 977.6,564.30 978.6,564.30 979.6,564.31 980.6,564.31 981.6,564.31 982.6,564.32 983.6,564.32 984.6,564.32 985.6,564.32 986.6,564.32 987.6,564.32 988.6,564.32 989.6,564.31 990.6,564.31 991.6,564.31 992.6,564.30 993.6,564.30 994.7,564.29 995.7,564.28 996.7,564.28 997.7,564.27 998.7,564.26 999.7,564.25 1000.7,564.24 1001.7,564.23 1002.7,564.22 1003.7,564.20 1003.7,564.20" stroke="#8a0040"/>
</g>
<g stroke="#000" stroke-width="2.2" fill="none">
<polyline points="43.2,156.6 51.6,156.6 51.6,430 43.2,430" stroke-linejoin="miter"/>
<path d="M51.2 583.9H1005 M61.21 583.9V589.5M80.84 583.9V589.5M100.47 583.9V589.5M120.10 583.9V591.8M139.73 583.9V589.5M159.36 583.9V589.5M178.99 583.9V589.5M198.62 583.9V589.5M218.25 583.9V591.8M237.88 583.9V589.5M257.51 583.9V589.5M277.14 583.9V589.5M296.77 583.9V589.5M316.40 583.9V591.8M336.03 583.9V589.5M355.66 583.9V589.5M375.29 583.9V589.5M394.92 583.9V589.5M414.55 583.9V591.8M434.18 583.9V589.5M453.81 583.9V589.5M473.44 583.9V589.5M493.07 583.9V589.5M512.70 583.9V591.8M532.33 583.9V589.5M551.96 583.9V589.5M571.59 583.9V589.5M591.22 583.9V589.5M610.85 583.9V591.8M630.48 583.9V589.5M650.11 583.9V589.5M669.74 583.9V589.5M689.37 583.9V589.5M709.00 583.9V591.8M728.63 583.9V589.5M748.26 583.9V589.5M767.89 583.9V589.5M787.52 583.9V589.5M807.15 583.9V591.8M826.78 583.9V589.5M846.41 583.9V589.5M866.04 583.9V589.5M885.67 583.9V589.5M905.30 583.9V591.8M924.93 583.9V589.5M944.56 583.9V589.5M964.19 583.9V589.5M983.82 583.9V589.5M1003.45 583.9V591.8"/>
</g>
<g fill="#000" stroke="#000">
<text x="102.85" y="617.8" textLength="36.3" lengthAdjust="spacingAndGlyphs">100</text>
<text x="201.00" y="617.8" textLength="36.3" lengthAdjust="spacingAndGlyphs">200</text>
<text x="299.15" y="617.8" textLength="36.3" lengthAdjust="spacingAndGlyphs">300</text>
<text x="397.30" y="617.8" textLength="36.3" lengthAdjust="spacingAndGlyphs">400</text>
<text x="495.45" y="617.8" textLength="36.3" lengthAdjust="spacingAndGlyphs">500</text>
<text x="593.60" y="617.8" textLength="36.3" lengthAdjust="spacingAndGlyphs">600</text>
<text x="691.75" y="617.8" textLength="36.3" lengthAdjust="spacingAndGlyphs">700</text>
<text x="789.90" y="617.8" textLength="36.3" lengthAdjust="spacingAndGlyphs">800</text>
<text x="888.05" y="617.8" textLength="36.3" lengthAdjust="spacingAndGlyphs">900</text>
<text y="617.8"><tspan x="979.5" font-size="30" dy="5.0">°</tspan><tspan x="991.0" dy="-5.0" textLength="14.5" lengthAdjust="spacingAndGlyphs">C</tspan></text>
<text x="27.6" y="275.3" textLength="13.0" lengthAdjust="spacingAndGlyphs">2</text>
<text x="17.8" y="303.2" textLength="21.5" lengthAdjust="spacingAndGlyphs">%</text>
</g>
<text x="748.2" y="281.2" fill="#000" stroke="#000" textLength="162.6" lengthAdjust="spacingAndGlyphs">Ethylenediamine</text>
<text x="757" y="337.1" fill="#008000" stroke="#008000">2-Thiazolamine</text>
<text x="757.3" y="437" fill="#0000ff" stroke="#0000ff">Hydrazine</text>
<text x="755.3" y="546.6" fill="#8a0040" stroke="#8a0040" textLength="35.8" lengthAdjust="spacingAndGlyphs">Tris</text>
</svg>
</body></html>
